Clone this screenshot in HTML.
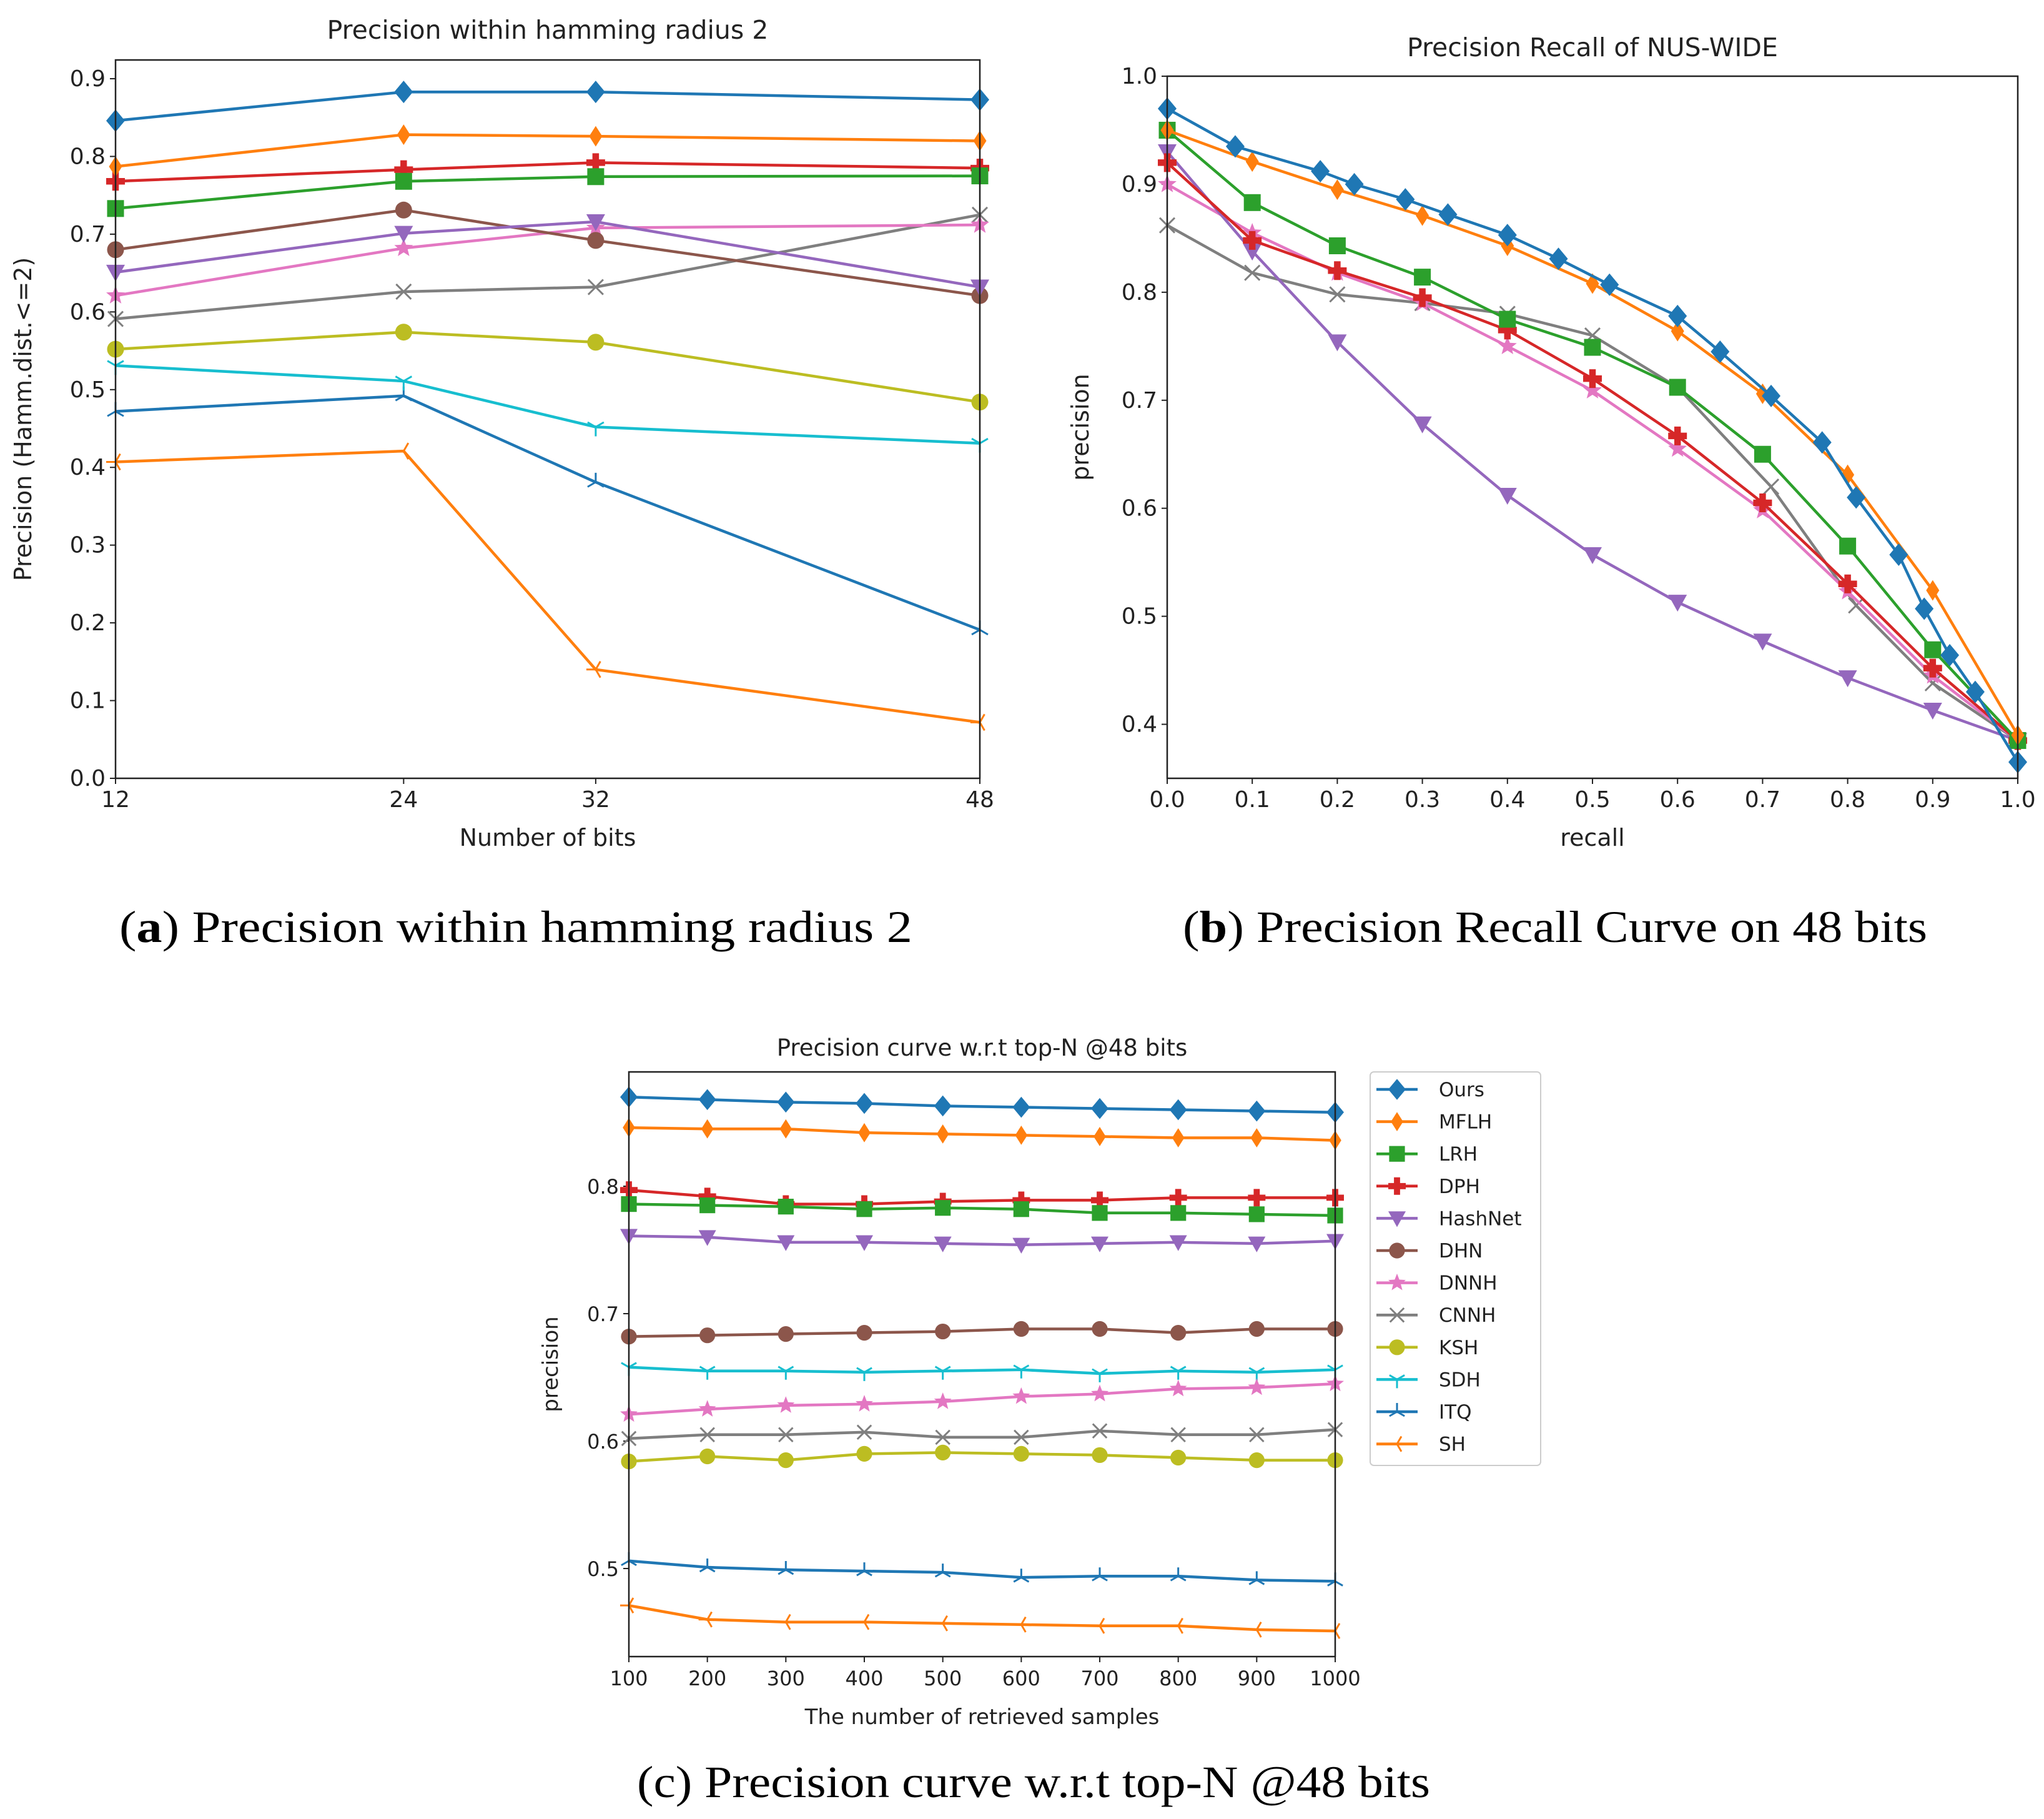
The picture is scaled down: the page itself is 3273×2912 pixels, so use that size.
<!DOCTYPE html>
<html><head><meta charset="utf-8"><style>
html,body{margin:0;padding:0;background:#fff;}
svg{display:block;}
text{font-family:"DejaVu Sans","Liberation Sans",sans-serif;fill:#222;}
.cap{font-family:"Liberation Serif",serif;fill:#000;}
</style></head><body>
<svg id="fig" width="3273" height="2912" viewBox="0 0 3273 2912" xmlns="http://www.w3.org/2000/svg">
<text class="cap" x="826" y="1508" font-size="72" text-anchor="middle" textLength="1270" lengthAdjust="spacingAndGlyphs">(<tspan font-weight="bold">a</tspan>) Precision within hamming radius 2</text>
<text class="cap" x="2490" y="1508" font-size="72" text-anchor="middle" textLength="1192" lengthAdjust="spacingAndGlyphs">(<tspan font-weight="bold">b</tspan>) Precision Recall Curve on 48 bits</text>
<text class="cap" x="1655" y="2877" font-size="72" text-anchor="middle" textLength="1270" lengthAdjust="spacingAndGlyphs">(c) Precision curve w.r.t top-N @48 bits</text>
</svg>
<script>
// ---- shared series meta ----
const names = ["Ours","MFLH","LRH","DPH","HashNet","DHN","DNNH","CNNH","KSH","SDH","ITQ","SH"];
const colors = ["#1f77b4","#ff7f0e","#2ca02c","#d62728","#9467bd","#8c564b","#e377c2","#7f7f7f","#bcbd22","#17becf","#1f77b4","#ff7f0e"];
const markers = ["D","d","s","P","v","o","*","x","o","1","2","3"];

// ---- chart a data ----
const aBits = [12,24,32,48];
const aOurs = [0.846,0.883,0.883,0.873];
const aMFLH = [0.787,0.828,0.826,0.820];
const aLRH = [0.733,0.768,0.774,0.775];
const aDPH = [0.768,0.783,0.792,0.785];
const aHashNet = [0.651,0.701,0.716,0.632];
const aDHN = [0.680,0.731,0.692,0.621];
const aDNNH = [0.621,0.682,0.708,0.712];
const aCNNH = [0.591,0.626,0.632,0.725];
const aKSH = [0.552,0.574,0.561,0.484];
const aSDH = [0.531,0.511,0.452,0.431];
const aITQ = [0.472,0.492,0.381,0.191];
const aSH = [0.407,0.421,0.140,0.072];
const aYTicks = [0.0,0.1,0.2,0.3,0.4,0.5,0.6,0.7,0.8,0.9];

// ---- chart b data ----
const bOursX = [0,0.08,0.18,0.22,0.28,0.33,0.4,0.46,0.52,0.6,0.65,0.71,0.77,0.81,0.86,0.89,0.92,0.95,1.0];
const bOursY = [0.970,0.935,0.912,0.900,0.886,0.872,0.853,0.831,0.807,0.778,0.745,0.704,0.661,0.610,0.557,0.507,0.464,0.430,0.365];
const bRecall = [0,0.1,0.2,0.3,0.4,0.5,0.6,0.7,0.8,0.9,1.0];
const bMFLH = [0.950,0.921,0.895,0.871,0.843,0.808,0.764,0.706,0.631,0.524,0.390];
const bLRH = [0.950,0.883,0.843,0.814,0.775,0.749,0.712,0.650,0.565,0.469,0.385];
const bDPH = [0.920,0.848,0.820,0.795,0.765,0.720,0.667,0.605,0.530,0.452,0.385];
const bHashNet = [0.930,0.838,0.754,0.678,0.612,0.557,0.513,0.477,0.443,0.413,0.385];
const bDNNH = [0.900,0.855,0.818,0.790,0.750,0.709,0.655,0.598,0.523,0.445,0.385];
const bCNNHX = [0,0.1,0.2,0.3,0.4,0.5,0.6,0.71,0.81,0.9,1.0];
const bCNNH = [0.862,0.818,0.798,0.790,0.780,0.760,0.712,0.620,0.510,0.438,0.385];
const bXTicks = [0.0,0.1,0.2,0.3,0.4,0.5,0.6,0.7,0.8,0.9,1.0];
const bYTicks = [0.4,0.5,0.6,0.7,0.8,0.9,1.0];

// ---- chart c data ----
const cN = [100,200,300,400,500,600,700,800,900,1000];
const cOurs = [0.870,0.868,0.866,0.865,0.863,0.862,0.861,0.860,0.859,0.858];
const cMFLH = [0.846,0.845,0.845,0.842,0.841,0.840,0.839,0.838,0.838,0.836];
const cLRH = [0.786,0.785,0.784,0.782,0.783,0.782,0.779,0.779,0.778,0.777];
const cDPH = [0.797,0.792,0.786,0.786,0.788,0.789,0.789,0.791,0.791,0.791];
const cHashNet = [0.761,0.760,0.756,0.756,0.755,0.754,0.755,0.756,0.755,0.757];
const cDHN = [0.682,0.683,0.684,0.685,0.686,0.688,0.688,0.685,0.688,0.688];
const cDNNH = [0.621,0.625,0.628,0.629,0.631,0.635,0.637,0.641,0.642,0.645];
const cCNNH = [0.602,0.605,0.605,0.607,0.603,0.603,0.608,0.605,0.605,0.609];
const cKSH = [0.584,0.588,0.585,0.590,0.591,0.590,0.589,0.587,0.585,0.585];
const cSDH = [0.658,0.655,0.655,0.654,0.655,0.656,0.653,0.655,0.654,0.656];
const cITQ = [0.506,0.501,0.499,0.498,0.497,0.493,0.494,0.494,0.491,0.490];
const cSH = [0.471,0.460,0.458,0.458,0.457,0.456,0.455,0.455,0.452,0.451];
const cYTicks = [0.5,0.6,0.7,0.8];

const NS = "http://www.w3.org/2000/svg";
const fig = document.getElementById("fig");
function mk(tag, attrs, parent){
  const e = document.createElementNS(NS, tag);
  for (const k in attrs) e.setAttribute(k, attrs[k]);
  (parent||fig).appendChild(e);
  return e;
}
function marker(g, type, x, y, col, s){
  let e;
  if (type==="D"){ e = mk("polygon",{points:`${x},${y-s*1.2} ${x+s},${y} ${x},${y+s*1.2} ${x-s},${y}`,fill:col},g); }
  else if (type==="d"){ e = mk("polygon",{points:`${x},${y-s*1.1} ${x+s*0.7},${y} ${x},${y+s*1.1} ${x-s*0.7},${y}`,fill:col},g); }
  else if (type==="s"){ e = mk("rect",{x:x-s*0.9,y:y-s*0.9,width:s*1.8,height:s*1.8,fill:col},g); }
  else if (type==="P"){ e = mk("path",{d:`M${x-s*0.35},${y-s} h${s*0.7} v${s*0.65} h${s*0.65} v${s*0.7} h${-s*0.65} v${s*0.65} h${-s*0.7} v${-s*0.65} h${-s*0.65} v${-s*0.7} h${s*0.65}z`,fill:col},g); }
  else if (type==="v"){ e = mk("polygon",{points:`${x-s},${y-s*0.8} ${x+s},${y-s*0.8} ${x},${y+s}`,fill:col},g); }
  else if (type==="o"){ e = mk("circle",{cx:x,cy:y,r:s*0.9,fill:col},g); }
  else if (type==="*"){ let p=[]; for(let i=0;i<10;i++){const r=i%2?s*0.45:s*1.05;const a=-Math.PI/2+i*Math.PI/5;p.push((x+r*Math.cos(a)).toFixed(1)+","+(y+r*Math.sin(a)).toFixed(1));} e = mk("polygon",{points:p.join(" "),fill:col},g); }
  else if (type==="x"){ e = mk("path",{d:`M${x-s*0.8},${y-s*0.8}L${x+s*0.8},${y+s*0.8}M${x-s*0.8},${y+s*0.8}L${x+s*0.8},${y-s*0.8}`,stroke:col,"stroke-width":3,fill:"none"},g); }
  else {
    const ang = type==="1"?[90,210,330]:type==="2"?[270,30,150]:[180,300,60];
    let d=""; ang.forEach(a=>{const r=a*Math.PI/180; d+=`M${x},${y}L${x+s*Math.cos(r)},${y+s*Math.sin(r)}`;});
    e = mk("path",{d:d,stroke:col,"stroke-width":3,fill:"none"},g);
  }
  
  
}
function axes(name, L, R, T, B, xs, xticks, xfmt, ys, yticks, yfmt, title, titleY, xlabel, ylabel, ylabX, fs){
  const g = mk("g",{});
  
  
  const t = mk("text",{x:(L+R)/2,y:titleY,"font-size":fs+5,"text-anchor":"middle"},g);
  t.textContent = title;
  
  
  xticks.forEach(v=>{
    const x = xs(v);
    mk("line",{x1:x,x2:x,y1:B,y2:B+9,stroke:"#222","stroke-width":2},g);
    const tx = mk("text",{x:x,y:B+46,"font-size":fs,"text-anchor":"middle"},g);
    tx.textContent = xfmt(v);
    
    
  });
  yticks.forEach(v=>{
    const y = ys(v);
    mk("line",{x1:L-9,x2:L,y1:y,y2:y,stroke:"#222","stroke-width":2},g);
    const ty = mk("text",{x:L-16,y:y+12,"font-size":fs,"text-anchor":"end"},g);
    ty.textContent = yfmt(v);
    
    
  });
  const xl = mk("text",{x:(L+R)/2,y:B+108,"font-size":fs+2,"text-anchor":"middle"},g);
  xl.textContent = xlabel;
  
  
  const yl = mk("text",{x:ylabX,y:(T+B)/2,"font-size":fs+2,"text-anchor":"middle",transform:`rotate(-90 ${ylabX} ${(T+B)/2})`},g);
  yl.textContent = ylabel;
  
  
  return g;
}
function frame(L,R,T,B){
  const f = mk("rect",{x:L,y:T,width:R-L,height:B-T,fill:"none",stroke:"#222","stroke-width":2.5});
  
  
}
function series(name, xsArr, ysArr, xs, ys, col, mtype, ms, clipId){
  const g = mk("g",{"clip-path":`url(#${clipId})`});
  
  
  const pts = xsArr.map((v,i)=>xs(v).toFixed(1)+","+ys(ysArr[i]).toFixed(1)).join(" ");
  const l = mk("polyline",{points:pts,fill:"none",stroke:col,"stroke-width":4.5,"stroke-linejoin":"round"},g);
  
  
  xsArr.forEach((v,i)=>marker(g,mtype,xs(v),ys(ysArr[i]),col,ms));
}
const defs = mk("defs",{});
function clip(id,L,R,T,B){ const c = mk("clipPath",{id:id},defs); mk("rect",{x:L-22,y:T-22,width:R-L+44,height:B-T+44},c); }

// ---- chart a ----
(function(){
  const L=185,R=1569,T=96,B=1246;
  const xs = v => L + (v-12)/(48-12)*(R-L);
  const ys = v => B - v/0.9*(B-126);
  clip("ca",L,R,T,B);
  axes("chart-a",L,R,T,B,xs,aBits,v=>String(v),ys,aYTicks,v=>v.toFixed(1),"Precision within hamming radius 2",62,"Number of bits","Precision (Hamm.dist.<=2)",50,36);
  const data=[aOurs,aMFLH,aLRH,aDPH,aHashNet,aDHN,aDNNH,aCNNH,aKSH,aSDH,aITQ,aSH];
  for(let i=data.length-1;i>=0;i--) series("chart-a-"+names[i].toLowerCase(),aBits,data[i],xs,ys,colors[i],markers[i],15,"ca");
  frame(L,R,T,B);
})();

// ---- chart b ----
(function(){
  const L=1869,R=3231,T=122,B=1246;
  const xs = v => L + v*(R-L);
  const ys = v => B - (v-0.35)/(1.0-0.35)*(B-T);
  clip("cb",L,R,T,B);
  axes("chart-b",L,R,T,B,xs,bXTicks,v=>v.toFixed(1),ys,bYTicks,v=>v.toFixed(1),"Precision Recall of NUS-WIDE",90,"recall","precision",1743,36);
  const sets=[[bOursX,bOursY],[bRecall,bMFLH],[bRecall,bLRH],[bRecall,bDPH],[bRecall,bHashNet],null,[bRecall,bDNNH],[bCNNHX,bCNNH]];
  for(let i=sets.length-1;i>=0;i--){ if(!sets[i]) continue; series("chart-b-"+names[i].toLowerCase(),sets[i][0],sets[i][1],xs,ys,colors[i],markers[i],15,"cb"); }
  frame(L,R,T,B);
})();

// ---- chart c ----
(function(){
  const L=1007,R=2138,T=1716,B=2652;
  const xs = v => L + (v-100)/900*(R-L);
  const ys = v => 2511 - (v-0.5)/0.3*(2511-1899);
  clip("cc",L,R,T,B);
  axes("chart-c",L,R,T,B,xs,cN,v=>String(v),ys,cYTicks,v=>v.toFixed(1),"Precision curve w.r.t top-N @48 bits",1690,"The number of retrieved samples","precision",893,32);
  const data=[cOurs,cMFLH,cLRH,cDPH,cHashNet,cDHN,cDNNH,cCNNH,cKSH,cSDH,cITQ,cSH];
  for(let i=data.length-1;i>=0;i--) series("chart-c-"+names[i].toLowerCase(),cN,data[i],xs,ys,colors[i],markers[i],14,"cc");
  frame(L,R,T,B);
  const lg = mk("g",{});
  
  
  const bx = mk("rect",{x:2194,y:1716,width:273,height:630,rx:6,fill:"#fff",stroke:"#ccc","stroke-width":2},lg);
  
  
  names.forEach((n,i)=>{
    const y = 1744 + i*51.6;
    const eg = mk("g",{},lg);
    
    
    mk("line",{x1:2204,x2:2270,y1:y,y2:y,stroke:colors[i],"stroke-width":4.5},eg);
    marker(eg,markers[i],2237,y,colors[i],14);
    const t = mk("text",{x:2304,y:y+11,"font-size":31},eg);
    t.textContent = n;
    
    
  });
})();
</script>
</body></html>
